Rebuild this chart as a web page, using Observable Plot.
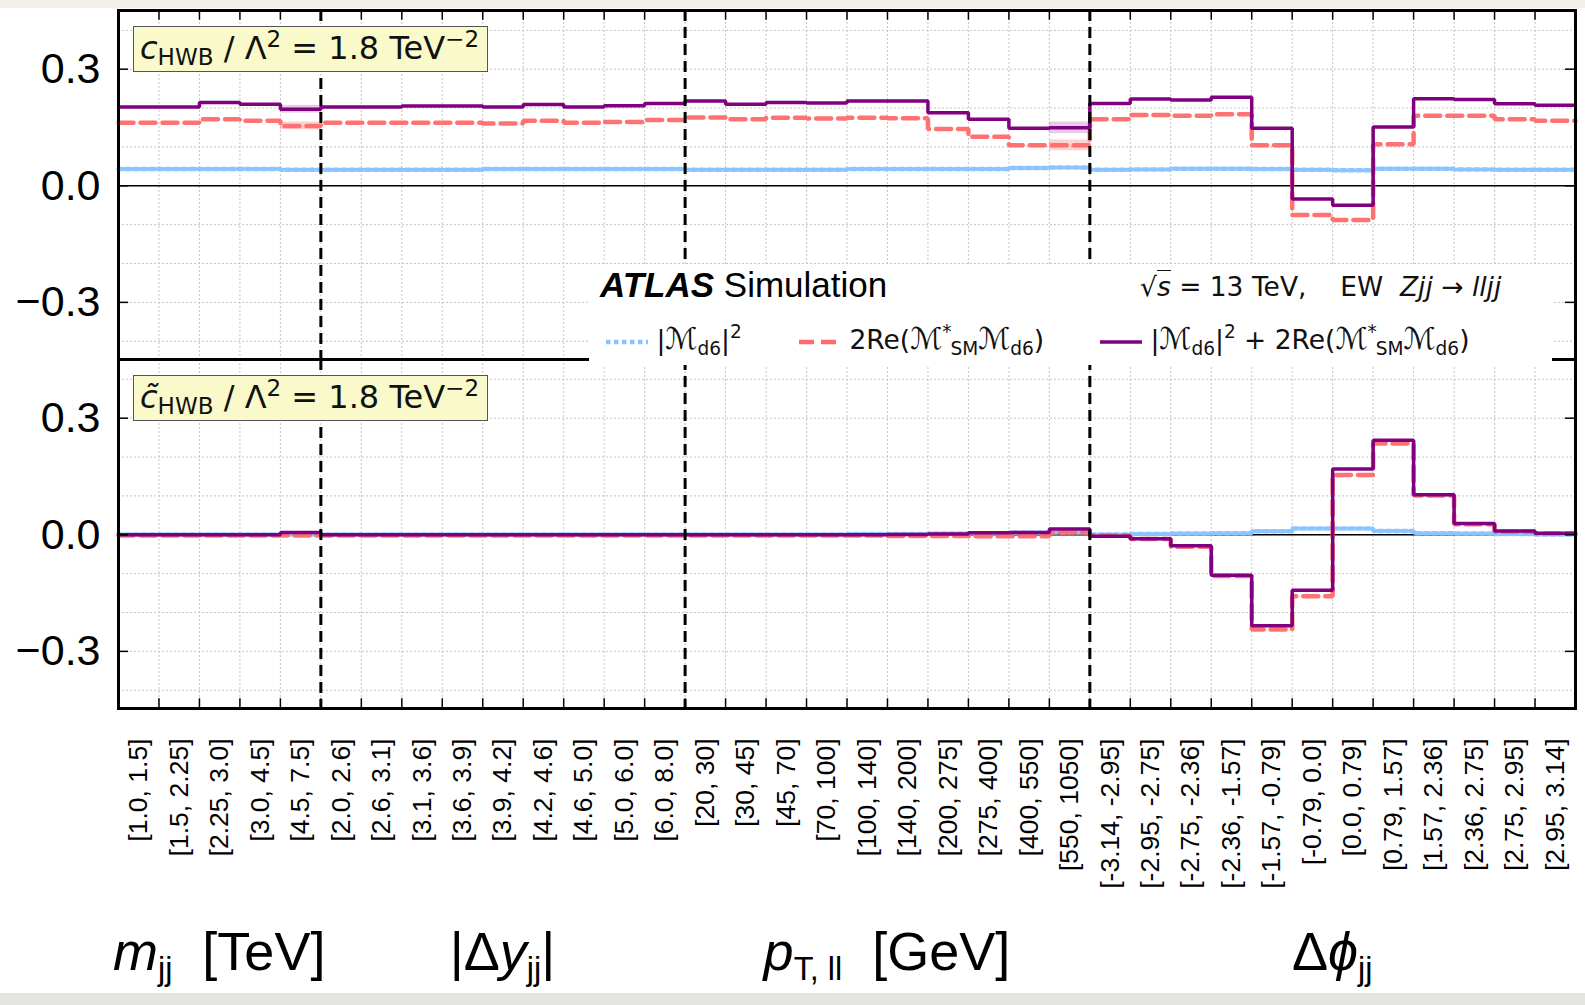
<!DOCTYPE html>
<html>
<head>
<meta charset="utf-8">
<script src="https://cdn.jsdelivr.net/npm/d3@7"></script>
<script src="https://cdn.jsdelivr.net/npm/@observablehq/plot@0.6"></script>
<style>
  html, body { margin: 0; padding: 0; background: #fff; }
  #root { position: relative; width: 1585px; height: 1005px; overflow: hidden; background: #fff; font-family: "Liberation Sans", Arial, sans-serif; }
  #root svg { position: absolute; left: 0; }
  .strip-top { position: absolute; left: 0; top: 0; width: 1585px; height: 8px; background: #f2efe9; }
  .strip-bot { position: absolute; left: 0; top: 993px; width: 1585px; height: 12px; background: #e6e4e0; }
  .anno { position: absolute; left: 133px; width: 355px; height: 46px; background: #f9f9c9; border: 1.5px solid #555; box-sizing: border-box;
          font-family: "DejaVu Sans", sans-serif; font-size: 32px; line-height: 43px; padding-left: 6px; white-space: nowrap; color: #111; overflow: hidden; }
  .anno sub { font-size: 0.72em; vertical-align: -0.28em; line-height: 0; }
  .anno sup { font-size: 0.72em; vertical-align: 0.5em; line-height: 0; }
  #legend { position: absolute; left: 589px; top: 264px; width: 963px; height: 101px; background: #fff; }
  .math { font-family: "DejaVu Sans", sans-serif; font-size: 26.5px; line-height: 1; position: absolute; white-space: nowrap; color: #111; }
  .math sub { font-size: 0.7em; vertical-align: -0.3em; line-height: 0; }
  .math sup { font-size: 0.7em; vertical-align: 0.6em; line-height: 0; }
  .math sup.ast { margin-right: -0.05em; }
  .cm { font-size: 1.13em; line-height: 0; }
  .grp { position: absolute; top: 924px; font-family: "Liberation Sans", Arial, sans-serif; font-size: 54px; line-height: 1; white-space: nowrap; transform: translateX(-50%); color: #000; }
  .grp sub { font-size: 0.6em; vertical-align: -0.3em; line-height: 0; }
</style>
</head>
<body>
<div id="root"></div>
<script>
// ---------------- data ----------------
const binLabels = [
  "[1.0, 1.5]", "[1.5, 2.25]", "[2.25, 3.0]", "[3.0, 4.5]", "[4.5, 7.5]",
  "[2.0, 2.6]", "[2.6, 3.1]", "[3.1, 3.6]", "[3.6, 3.9]", "[3.9, 4.2]", "[4.2, 4.6]", "[4.6, 5.0]", "[5.0, 6.0]", "[6.0, 8.0]",
  "[20, 30]", "[30, 45]", "[45, 70]", "[70, 100]", "[100, 140]", "[140, 200]", "[200, 275]", "[275, 400]", "[400, 550]", "[550, 1050]",
  "[-3.14, -2.95]", "[-2.95, -2.75]", "[-2.75, -2.36]", "[-2.36, -1.57]", "[-1.57, -0.79]", "[-0.79, 0.0]", "[0.0, 0.79]", "[0.79, 1.57]", "[1.57, 2.36]", "[2.36, 2.75]", "[2.75, 2.95]", "[2.95, 3.14]"
];
const groupSizes = [5, 9, 10, 12];
const groupTitles = [
  "<i>m</i><sub>jj</sub>&nbsp;&nbsp;[TeV]",
  "|Δ<i>y</i><sub>jj</sub>|",
  "<i>p</i><sub>T, ll</sub>&nbsp;&nbsp;[GeV]",
  "Δ<i>ϕ</i><sub>jj</sub>"
];
const yTicks = [-0.3, 0, 0.3];

// top panel: c_HWB
const topQuad = [0.043, 0.043, 0.043, 0.043, 0.041,
  0.041, 0.041, 0.041, 0.041, 0.043, 0.043, 0.043, 0.043, 0.043,
  0.041, 0.041, 0.041, 0.041, 0.043, 0.043, 0.043, 0.043, 0.046, 0.047,
  0.041, 0.042, 0.044, 0.044, 0.043, 0.041, 0.040, 0.044, 0.044, 0.042, 0.041, 0.041];
const topInterf = [0.162, 0.162, 0.171, 0.167, 0.154,
  0.162, 0.162, 0.162, 0.162, 0.160, 0.167, 0.162, 0.164, 0.169,
  0.176, 0.171, 0.175, 0.173, 0.175, 0.174, 0.146, 0.126, 0.104, 0.104,
  0.171, 0.182, 0.180, 0.184, 0.104, -0.075, -0.088, 0.107, 0.180, 0.180, 0.171, 0.167];
const topSum = [0.203, 0.203, 0.214, 0.210, 0.197,
  0.203, 0.203, 0.205, 0.205, 0.203, 0.209, 0.203, 0.206, 0.212,
  0.218, 0.210, 0.214, 0.213, 0.218, 0.218, 0.188, 0.171, 0.148, 0.149,
  0.212, 0.223, 0.221, 0.228, 0.148, -0.034, -0.050, 0.151, 0.224, 0.222, 0.211, 0.207];
// uncertainty bands (bin index, half-width)
const topSumErr = [[4, 0.010], [23, 0.015]];
const topInterfErr = [[4, 0.010], [23, 0.014]];

// bottom panel: c~_HWB
const botQuad = [0.001, 0.001, 0.001, 0.001, 0.001,
  0.001, 0.001, 0.001, 0.001, 0.001, 0.001, 0.001, 0.001, 0.001,
  0.001, 0.001, 0.001, 0.001, 0.002, 0.002, 0.003, 0.004, 0.005, 0.006,
  0.001, 0.002, 0.003, 0.004, 0.009, 0.016, 0.016, 0.010, 0.004, 0.003, 0.002, 0.001];
const botInterf = [-0.002, -0.002, -0.002, -0.002, -0.002,
  -0.002, -0.002, -0.002, -0.002, -0.002, -0.002, -0.002, -0.002, -0.002,
  -0.002, -0.002, -0.002, -0.002, -0.002, -0.003, -0.003, -0.004, -0.004, 0.006,
  -0.002, -0.011, -0.031, -0.106, -0.244, -0.158, 0.154, 0.235, 0.101, 0.027, 0.008, 0.003];
const botSum = [0.000, 0.000, 0.000, 0.000, 0.006,
  0.000, 0.000, 0.000, 0.000, 0.000, 0.000, 0.000, 0.000, 0.000,
  0.000, 0.000, 0.000, 0.000, 0.000, 0.001, 0.002, 0.005, 0.006, 0.015,
  -0.004, -0.010, -0.028, -0.104, -0.234, -0.143, 0.169, 0.243, 0.103, 0.029, 0.010, 0.004];

// ---------------- helpers ----------------
const nBins = binLabels.length;
const yDomain = [-0.447, 0.451];
const colBlue = "#8cc4ff", colRed = "#ff6a6a", colPurple = "#800080";
const groupEdges = d3.cumsum(groupSizes).slice(0, -1);
const groupStarts = [0, ...groupEdges];
const binEdges = d3.range(1, nBins);
const centers = d3.range(nBins).map(i => i + 0.5);
const yGrid = d3.range(-4, 5).map(d => d / 10);
const steps = vals => vals.flatMap((v, i) => [{x: i, y: v}, {x: i + 1, y: v}]);
const bandRects = (vals, errs) => errs.map(([i, e]) => ({x1: i, x2: i + 1, y1: vals[i] - e, y2: vals[i] + e}));
const fmtY = d => d === 0 ? "0.0" : (d < 0 ? "\u2212" : "") + Math.abs(d).toFixed(1);

function panel({quad, interf, sum, sumErr = [], interfErr = [], marginTop, marginBottom, height, withXAxis, tickEdge}) {
  const marks = [
    Plot.gridY(yGrid, {stroke: "#c4c4c4", strokeOpacity: 1, strokeWidth: 1, strokeDasharray: "2,2"}),
    Plot.gridX(binEdges, {stroke: "#c4c4c4", strokeOpacity: 1, strokeWidth: 1, strokeDasharray: "2,2"}),
    Plot.ruleY([0], {stroke: "black", strokeWidth: 1.6}),
    Plot.rect(bandRects(interf, interfErr), {x1: "x1", x2: "x2", y1: "y1", y2: "y2", fill: colRed, fillOpacity: 0.3}),
    Plot.rect(bandRects(sum, sumErr), {x1: "x1", x2: "x2", y1: "y1", y2: "y2", fill: colPurple, fillOpacity: 0.2}),
    Plot.line(steps(quad), {x: "x", y: "y", stroke: colBlue, strokeWidth: 4.5, strokeDasharray: "4.5,3.5", strokeLinejoin: "miter"}),
    Plot.line(steps(interf), {x: "x", y: "y", stroke: colRed, strokeOpacity: 0.95, strokeWidth: 4.5, strokeDasharray: "15,7", strokeLinejoin: "miter"}),
    Plot.line(steps(sum), {x: "x", y: "y", stroke: colPurple, strokeWidth: 3.5, strokeLinejoin: "miter"}),
    Plot.ruleX(groupEdges, {stroke: "black", strokeWidth: 3, strokeDasharray: "11,6"}),
    // inward ticks on the outer horizontal edge and on the sides
    Plot.ruleX(binEdges, {y1: yDomain[tickEdge], y2: yDomain[tickEdge] + (tickEdge ? -0.025 : 0.025), stroke: "black", strokeWidth: 1.5}),
    Plot.ruleY(yTicks, {x1: 0, x2: 0.25, stroke: "black", strokeWidth: 1.5}),
    Plot.ruleY(yTicks, {x1: nBins - 0.25, x2: nBins, stroke: "black", strokeWidth: 1.5}),
    Plot.frame({stroke: "black", strokeWidth: 3}),
    Plot.axisY(yTicks, {tickSize: 0, tickPadding: 18, fontSize: 43, tickFormat: fmtY, fill: "black"})
  ];
  if (withXAxis) {
    marks.push(Plot.axisX(centers, {
      tickSize: 0, tickPadding: 30, tickRotate: -90, fontSize: 26.5, fill: "black",
      tickFormat: d => binLabels[Math.floor(d)]
    }));
  }
  return Plot.plot({
    width: 1585, height, marginLeft: 118, marginRight: 10, marginTop, marginBottom,
    style: {fontFamily: "'Liberation Sans', Arial, sans-serif", background: "transparent", overflow: "visible"},
    x: {domain: [0, nBins], axis: withXAxis ? undefined : null},
    y: {domain: yDomain},
    marks
  });
}

const root = document.getElementById("root");
root.insertAdjacentHTML("beforeend", '<div class="strip-top"></div><div class="strip-bot"></div>');

const topPlot = panel({quad: topQuad, interf: topInterf, sum: topSum, sumErr: topSumErr, interfErr: topInterfErr,
  marginTop: 10, marginBottom: 0, height: 359, withXAxis: false, tickEdge: 1});
topPlot.style.top = "0px";
root.appendChild(topPlot);

const botPlot = panel({quad: botQuad, interf: botInterf, sum: botSum,
  marginTop: 0, marginBottom: 297, height: 646, withXAxis: true, tickEdge: 0});
botPlot.style.top = "359px";
root.appendChild(botPlot);

// annotation boxes
const annoBody = "&nbsp;/&nbsp;Λ<sup>2</sup>&nbsp;=&nbsp;1.8&nbsp;TeV<sup>−2</sup>";
root.insertAdjacentHTML("beforeend",
  `<div class="anno" style="top:26px"><i>c</i><sub>HWB</sub>${annoBody}</div>` +
  `<div class="anno" style="top:375px"><i>c̃</i><sub>HWB</sub>${annoBody}</div>`);

// legend block
const sample = (color, w, dash) =>
  `<svg width="42" height="10" style="position:static;vertical-align:middle"><line x1="0" y1="5" x2="42" y2="5" stroke="${color}" stroke-width="${w}" ${dash ? `stroke-dasharray="${dash}"` : ""}/></svg>`;
const M = '<span class="cm">ℳ</span>';
const quadTxt = `|${M}<sub>d6</sub>|<sup>2</sup>`;
const intTxt = `2Re(${M}<sup class="ast">*</sup><sub>SM</sub>${M}<sub>d6</sub>)`;
root.insertAdjacentHTML("beforeend", `
<div id="legend">
  <div style="position:absolute;left:11px;top:3px;font-family:'Liberation Sans',Arial,sans-serif;font-size:35px;line-height:1;white-space:nowrap;color:#000">
    <b><i>ATLAS</i></b> Simulation</div>
  <div class="math" style="left:551px;top:10px">√<span style="border-top:1.5px solid #111"><i>s</i></span> = 13 TeV,&nbsp;&nbsp;&nbsp;&nbsp;EW&nbsp;&nbsp;<i>Zjj</i> → <i>lljj</i></div>
  <div class="math" style="left:17px;top:63px">${sample(colBlue, 4.5, "4.5,3.5")}&nbsp;${quadTxt}</div>
  <div class="math" style="left:210px;top:63px">${sample(colRed, 4.5, "15,7")}&nbsp;${intTxt}</div>
  <div class="math" style="left:511px;top:63px">${sample(colPurple, 3.5, "")}&nbsp;${quadTxt} + ${intTxt}</div>
</div>`);

// group titles, centred on each group of bins via the x scale
const xs = botPlot.scale("x");
groupSizes.forEach((n, g) => {
  const cx = xs.apply(groupStarts[g] + n / 2);
  root.insertAdjacentHTML("beforeend", `<div class="grp" style="left:${cx}px">${groupTitles[g]}</div>`);
});
</script>
</body>
</html>
